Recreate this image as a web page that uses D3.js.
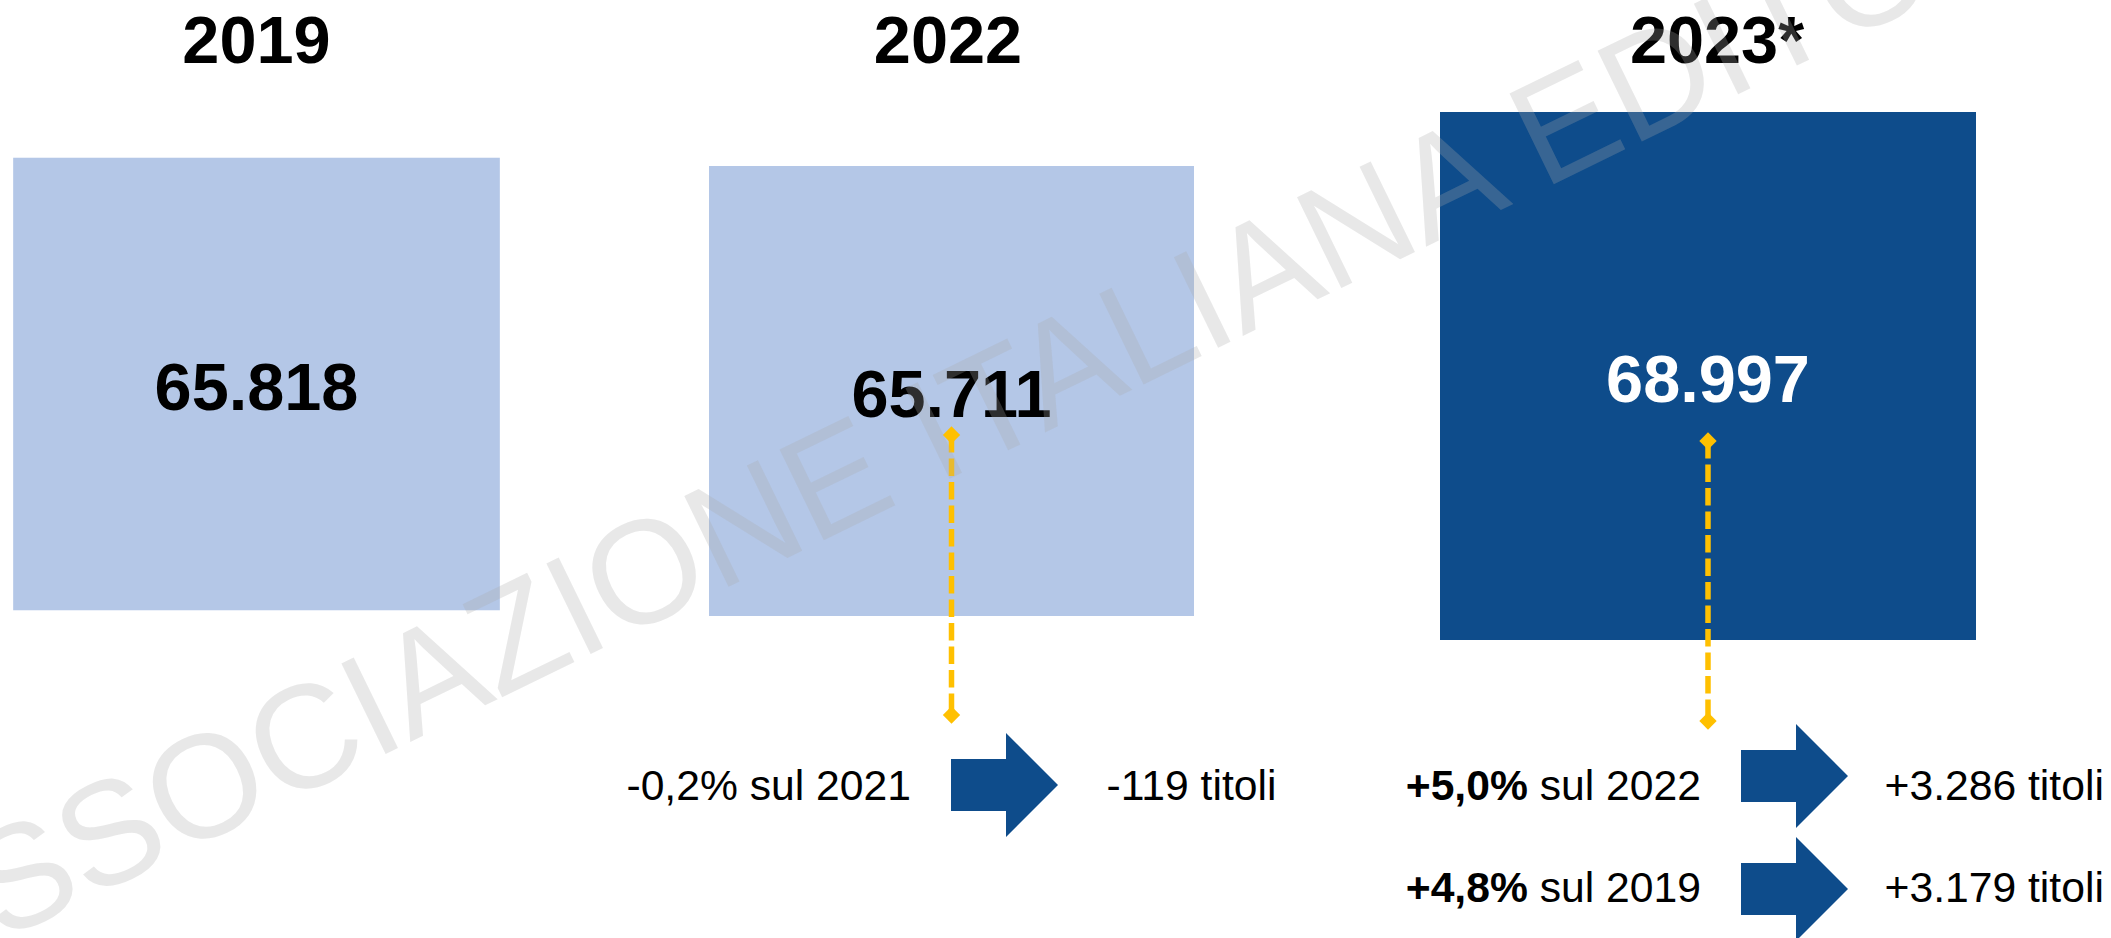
<!DOCTYPE html>
<html>
<head>
<meta charset="utf-8">
<script src="https://cdn.jsdelivr.net/npm/d3@7"></script>
<style>
  html, body { margin: 0; padding: 0; background: #ffffff; }
  text { font-family: "Liberation Sans", Arial, sans-serif; }
</style>
</head>
<body>
<div id="chart"></div>
<script>
// dati
var years = ["2019", "2022", "2023*"];
var titoli = [65818, 65711, 68997];

// variazioni (colonna di riferimento, percentuale, anno di confronto, differenza titoli)
var varYear = ["2022", "2023*", "2023*"];
var varPct = [-0.2, 5.0, 4.8];
var varRef = ["sul 2021", "sul 2022", "sul 2019"];
var varDelta = [-119, 3286, 3179];

var watermark = "ASSOCIAZIONE ITALIANA EDITORI";

// layout
var width = 2111, height = 938;
var lightBlue = "#b4c7e7", darkBlue = "#0e4c8b", gold = "#ffc000";
var bigFont = 66.67, smallFont = 42.67;

var it = d3.formatLocale({ decimal: ",", thousands: ".", grouping: [3], currency: ["€", ""], minus: "-" });
var fmtNum = it.format(",");
var fmtDelta = it.format("+,");
var fmtPct = it.format("+.1f");

var colX = d3.scaleOrdinal(years, [256.5, 951.5, 1708]);
var colY = d3.scaleOrdinal(years, [384, 391, 376]);
var titleX = d3.scaleOrdinal(years, [256.5, 948, 1717]);
var sideW = d3.scaleLinear().domain([65711, 68997]).range([485, 536]);
var sideH = d3.scaleLinear().domain([65711, 68997]).range([450, 528]);

// connettori tratteggiati
var linkTop = d3.scaleOrdinal(["2022", "2023*"], [435, 441]);
var linkLen = 280;

// righe delle variazioni
var rowArrowY = [785, 776, 889];
var rowBase = [800, 800, 902];
var rowBold = [false, true, true];
var leftEnd = d3.scaleOrdinal(["2022", "2023*"], [911, 1701]);
var arrowX = d3.scaleOrdinal(["2022", "2023*"], [951, 1741]);
var rightStart = d3.scaleOrdinal(["2022", "2023*"], [1106.5, 1884.5]);

var data = years.map(function (y, i) { return { year: y, value: titoli[i] }; });
var rows = varYear.map(function (y, i) {
    return { year: y, pct: varPct[i], ref: varRef[i], delta: varDelta[i], i: i };
});

var svg = d3.select("#chart").append("svg")
    .attr("width", width)
    .attr("height", height);

svg.append("rect").attr("width", width).attr("height", height).attr("fill", "#ffffff");

/* titoli anni */
svg.append("g").selectAll("text")
    .data(data)
    .enter().append("text")
    .attr("x", function (d) { return titleX(d.year); })
    .attr("y", 63)
    .attr("text-anchor", "middle")
    .style("font-size", bigFont + "px")
    .style("font-weight", "bold")
    .attr("fill", "#000")
    .text(function (d) { return d.year; });

/* quadrati */
svg.append("g").selectAll("rect")
    .data(data)
    .enter().append("rect")
    .attr("x", function (d) { return colX(d.year) - sideW(d.value) / 2; })
    .attr("y", function (d) { return colY(d.year) - sideH(d.value) / 2; })
    .attr("width", function (d) { return sideW(d.value); })
    .attr("height", function (d) { return sideH(d.value); })
    .attr("fill", function (d) { return d.year === "2023*" ? darkBlue : lightBlue; });

/* valori */
svg.append("g").selectAll("text")
    .data(data)
    .enter().append("text")
    .attr("x", function (d) { return colX(d.year); })
    .attr("y", function (d) { return colY(d.year) + 26; })
    .attr("text-anchor", "middle")
    .style("font-size", bigFont + "px")
    .style("font-weight", "bold")
    .attr("fill", function (d) { return d.year === "2023*" ? "#ffffff" : "#000000"; })
    .text(function (d) { return fmtNum(d.value); });

/* connettori gialli */
var links = svg.append("g").selectAll("g")
    .data(["2022", "2023*"])
    .enter().append("g");

links.append("line")
    .attr("x1", function (d) { return colX(d); })
    .attr("x2", function (d) { return colX(d); })
    .attr("y1", function (d) { return linkTop(d); })
    .attr("y2", function (d) { return linkTop(d) + linkLen; })
    .attr("stroke", gold)
    .attr("stroke-width", 5.5)
    .attr("stroke-dasharray", "17.5 6");

var diamond = d3.symbol().type(d3.symbolSquare).size(150);
links.selectAll("path")
    .data(function (d) { return [[colX(d), linkTop(d)], [colX(d), linkTop(d) + linkLen]]; })
    .enter().append("path")
    .attr("d", diamond)
    .attr("transform", function (p) { return "translate(" + p[0] + "," + p[1] + ")rotate(45)"; })
    .attr("fill", gold);

/* frecce */
function arrowPath(x0, cy) {
    var p = d3.path();
    var shaft = 55, head = 52, hs = 26, hh = 52;
    p.moveTo(x0, cy - hs);
    p.lineTo(x0 + shaft, cy - hs);
    p.lineTo(x0 + shaft, cy - hh);
    p.lineTo(x0 + shaft + head, cy);
    p.lineTo(x0 + shaft, cy + hh);
    p.lineTo(x0 + shaft, cy + hs);
    p.lineTo(x0, cy + hs);
    p.closePath();
    return p.toString();
}

var rowG = svg.append("g").selectAll("g")
    .data(rows)
    .enter().append("g");

rowG.append("path")
    .attr("d", function (d) { return arrowPath(arrowX(d.year), rowArrowY[d.i]); })
    .attr("fill", darkBlue);

var leftText = rowG.append("text")
    .attr("x", function (d) { return leftEnd(d.year); })
    .attr("y", function (d) { return rowBase[d.i]; })
    .attr("text-anchor", "end")
    .style("font-size", smallFont + "px")
    .attr("fill", "#000");
leftText.append("tspan")
    .style("font-weight", function (d) { return rowBold[d.i] ? "bold" : "normal"; })
    .text(function (d) { return fmtPct(d.pct) + "%"; });
leftText.append("tspan")
    .text(function (d) { return " " + d.ref; });

rowG.append("text")
    .attr("x", function (d) { return rightStart(d.year); })
    .attr("y", function (d) { return rowBase[d.i]; })
    .style("font-size", smallFont + "px")
    .attr("fill", "#000")
    .text(function (d) { return fmtDelta(d.delta) + " titoli"; });

/* filigrana */
svg.append("text")
    .attr("transform", "translate(-88,985)rotate(-26)")
    .style("font-size", "146.67px")
    .attr("fill", "#aaaaaa")
    .attr("fill-opacity", 0.27)
    .text(watermark);
</script>
</body>
</html>
